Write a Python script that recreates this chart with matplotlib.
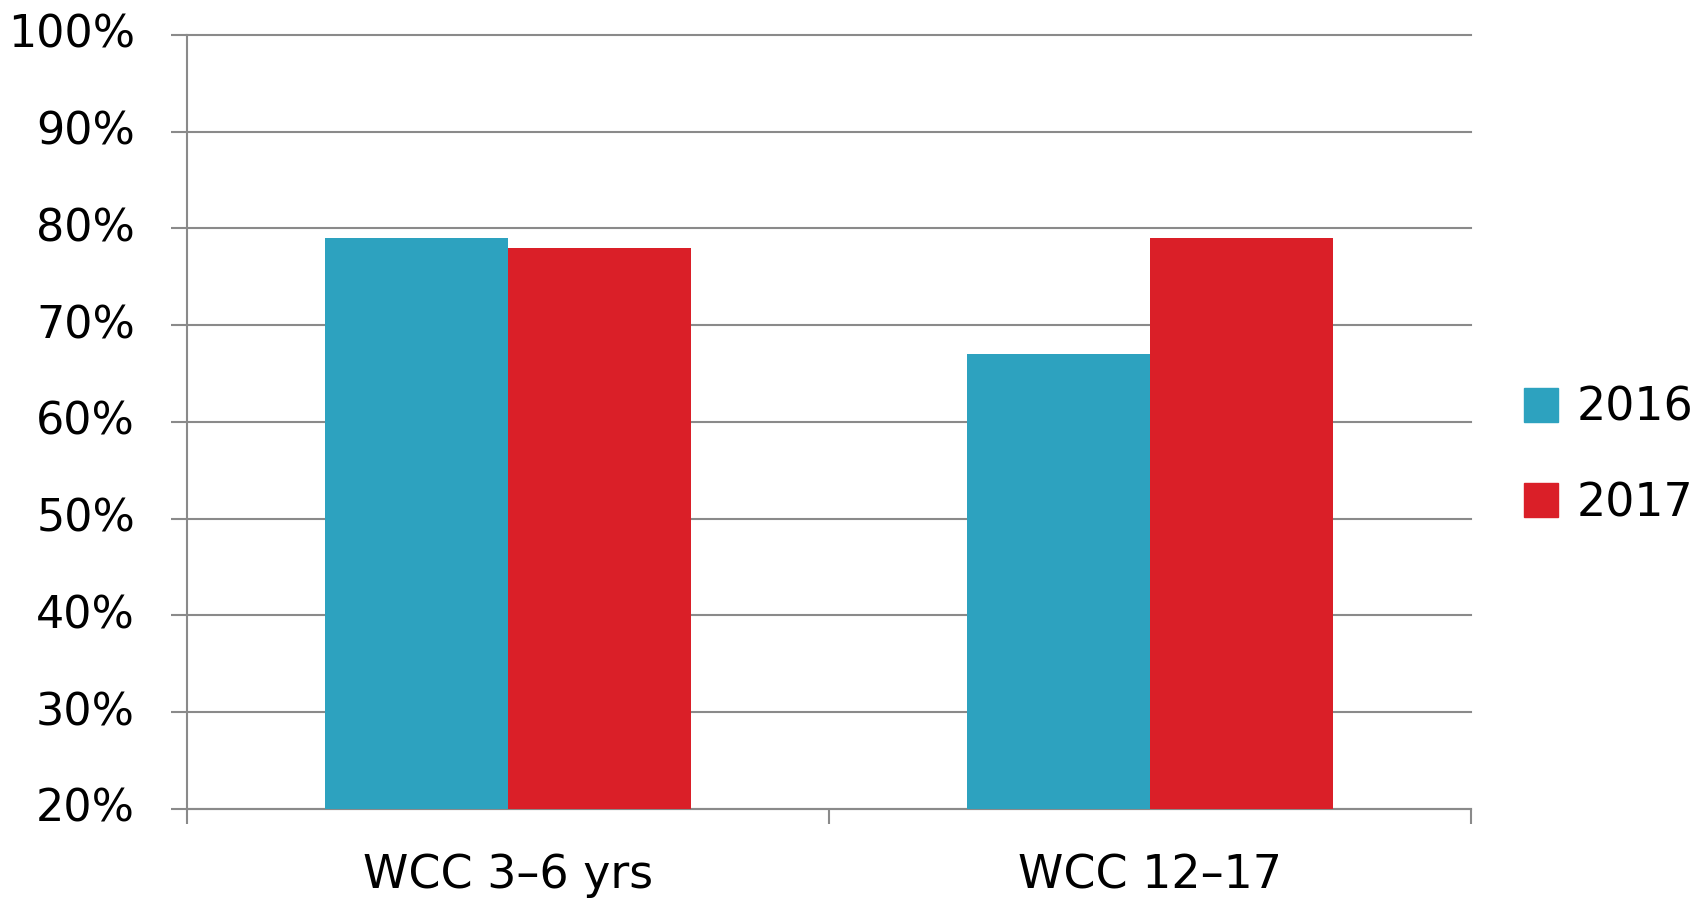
import numpy as np
from matplotlib import pyplot as plt
from matplotlib.patches import Patch
from matplotlib.transforms import ScaledTranslation

# WCC rates by measure, two reporting years
categories = ["WCC 3–6 yrs", "WCC 12–17"]
years = ["2016", "2017"]
rates_2016 = [79, 67]
rates_2017 = [78, 79]
yticks = [20, 30, 40, 50, 60, 70, 80, 90, 100]

blue = "#2DA2BF"
red = "#DA1F28"
grey = "#8A8A8A"

plt.rcParams["font.family"] = "DejaVu Sans"

fig = plt.figure(figsize=(17.07, 9.06), dpi=100)
ax = fig.add_axes([0.1096, 0.1071, 0.7521, 0.8543])

x = np.arange(len(categories))
w = 0.285
ax.bar(x - w / 2, rates_2016, width=w, color=blue, zorder=3)
ax.bar(x + w / 2, rates_2017, width=w, color=red, zorder=3)

ax.set_xlim(-0.5, 1.5)
ax.set_ylim(20, 100)
ax.set_yticks(yticks)
ax.set_yticklabels([f"{v}%" for v in yticks], fontsize=32)
ax.set_xticks(x)
ax.set_xticklabels(categories, fontsize=33)
ax.set_xticks([-0.5, 0.5, 1.5], minor=True)

ax.tick_params(axis="y", length=11.5, width=1.5, color=grey, pad=26)
ax.tick_params(axis="x", which="major", length=0, pad=32)
ax.tick_params(axis="x", which="minor", length=11, width=1.5, color=grey)

# lift the percent labels a little above their gridlines
lift = ScaledTranslation(0, 4 / 100, fig.dpi_scale_trans)
for lab in ax.get_yticklabels():
    lab.set_transform(lab.get_transform() + lift)

ax.grid(axis="y", color=grey, linewidth=1.5, zorder=0)
for line in ax.get_ygridlines():
    line.set_clip_on(False)

for side in ["top", "right"]:
    ax.spines[side].set_visible(False)
for side in ["left", "bottom"]:
    ax.spines[side].set_color(grey)
    ax.spines[side].set_linewidth(1.5)

handles = [Patch(color=blue), Patch(color=red)]
fig.legend(handles, years, loc="center left",
           bbox_to_anchor=(1524 / 1707, 1 - 456 / 906),
           frameon=False, fontsize=33, handlelength=0.75, handleheight=0.75,
           handletextpad=0.4, labelspacing=1.1, borderpad=0, borderaxespad=0)

fig.savefig("out.png", dpi=100)
